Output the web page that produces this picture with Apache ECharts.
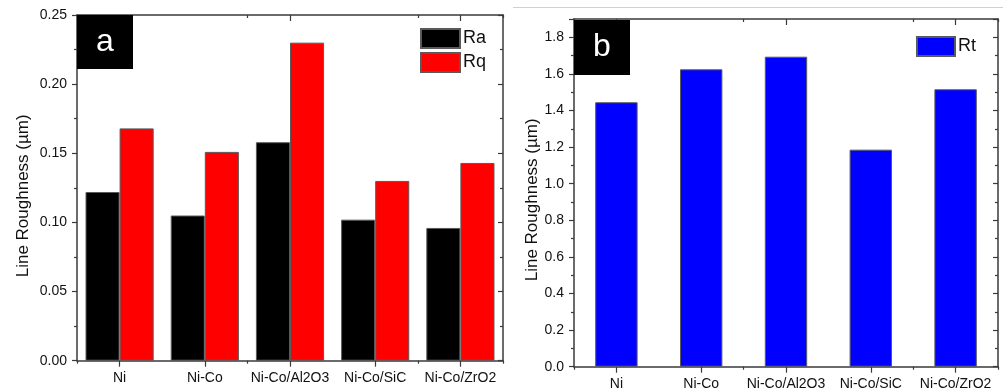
<!DOCTYPE html>
<html>
<head>
<meta charset="utf-8">
<title>Line Roughness</title>
<script src="https://cdn.jsdelivr.net/npm/echarts@6/dist/echarts.min.js"></script>
<style>
  html, body { margin: 0; padding: 0; background: #fff; }
  #chart { width: 1003px; height: 392px; }
</style>
</head>
<body>
<div id="chart"></div>
<script>
// Coatings measured
const categories = ['Ni', 'Ni-Co', 'Ni-Co/Al2O3', 'Ni-Co/SiC', 'Ni-Co/ZrO2'];
// Panel a: arithmetic mean (Ra) and root-mean-square (Rq) line roughness, µm
const raValues = [0.122, 0.105, 0.158, 0.102, 0.096];
const rqValues = [0.168, 0.151, 0.230, 0.130, 0.143];
// Panel b: total height of profile (Rt), µm
const rtValues = [1.445, 1.625, 1.694, 1.186, 1.516];
// Axis ranges / tick steps
const leftAxis = { min: 0, max: 0.25, interval: 0.05 };
const rightAxis = { min: 0, max: 1.9, interval: 0.2 };

const FONT = 'Liberation Sans, Arial, sans-serif';
const AXIS_COLOR = '#3a3a3a';
const TEXT_COLOR = '#111';

const chart = echarts.init(document.getElementById('chart'), null, { renderer: 'canvas' });

// Category axes: labelled bottom axis with ticks under each label,
// plus tick-only copies for category boundaries and the mirrored top frame.
function xAxesFor(gridIndex) {
  const base = {
    type: 'category', data: categories, gridIndex: gridIndex,
    axisLine: { show: true, lineStyle: { color: AXIS_COLOR, width: 1.5 } },
    splitLine: { show: false }
  };
  return [
    Object.assign({}, base, {
      position: 'bottom',
      axisTick: { show: true, alignWithLabel: true, length: 6, lineStyle: { color: AXIS_COLOR, width: 1.2 } },
      axisLabel: { show: true, margin: 10, fontSize: 14, fontFamily: FONT, color: TEXT_COLOR, interval: 0 }
    }),
    Object.assign({}, base, {
      position: 'bottom',
      axisLine: { show: false },
      axisTick: { show: true, alignWithLabel: false, length: 3, lineStyle: { color: AXIS_COLOR, width: 1.2 } },
      axisLabel: { show: false }
    }),
    Object.assign({}, base, {
      position: 'top',
      axisTick: { show: true, inside: true, alignWithLabel: true, length: 6, lineStyle: { color: AXIS_COLOR, width: 1.2 } },
      axisLabel: { show: false }
    }),
    Object.assign({}, base, {
      position: 'top',
      axisLine: { show: false },
      axisTick: { show: true, inside: true, alignWithLabel: false, length: 3, lineStyle: { color: AXIS_COLOR, width: 1.2 } },
      axisLabel: { show: false }
    })
  ];
}

function yAxesFor(gridIndex, range, digits, nameGap, nameShift) {
  const base = {
    type: 'value', gridIndex: gridIndex,
    min: range.min, max: range.max, interval: range.interval,
    splitLine: { show: false },
    axisLine: { show: true, lineStyle: { color: AXIS_COLOR, width: 1.5 } },
    minorTick: { show: true, splitNumber: 2, length: 3, lineStyle: { color: AXIS_COLOR, width: 1.2 } }
  };
  return [
    Object.assign({}, base, {
      position: 'left',
      name: 'Line Roughness (µm)',
      nameLocation: 'middle',
      nameGap: nameGap,
      nameTextStyle: { fontSize: 17, fontFamily: FONT, color: TEXT_COLOR, padding: [0, nameShift, 0, 0] },
      axisTick: { show: true, length: 5, lineStyle: { color: AXIS_COLOR, width: 1.2 } },
      axisLabel: {
        show: true, margin: 10, fontSize: 14, fontFamily: FONT, color: TEXT_COLOR,
        showMaxLabel: Math.abs(range.max / range.interval - Math.round(range.max / range.interval)) < 1e-9,
        formatter: function (v) { return v.toFixed(digits); }
      }
    }),
    Object.assign({}, base, {
      position: 'right',
      axisTick: { show: true, inside: true, length: 5, lineStyle: { color: AXIS_COLOR, width: 1.2 } },
      axisLabel: { show: false }
    })
  ];
}

const barBorder = { borderColor: '#5a5a5a', borderWidth: 1 };

const option = {
  backgroundColor: '#fff',
  animation: false,
  textStyle: { fontFamily: FONT },
  grid: [
    { left: 77, top: 15, width: 426, height: 345.7 },
    { left: 574, top: 19, width: 424, height: 347.7 }
  ],
  xAxis: xAxesFor(0).concat(xAxesFor(1)),
  yAxis: yAxesFor(0, leftAxis, 2, 45, 16).concat(yAxesFor(1, rightAxis, 1, 30, 14)),
  legend: [
    {
      data: ['Ra', 'Rq'], orient: 'vertical', left: 420, top: 28,
      itemWidth: 39, itemHeight: 19, itemGap: 3, padding: 0,
      icon: 'rect',
      textStyle: { fontSize: 18, fontFamily: FONT, color: TEXT_COLOR, padding: [0, 0, 0, -2] }
    },
    {
      data: ['Rt'], orient: 'vertical', left: 916, top: 36,
      itemWidth: 38, itemHeight: 19, padding: 0,
      icon: 'rect',
      textStyle: { fontSize: 18, fontFamily: FONT, color: TEXT_COLOR, padding: [0, 0, 0, -2] }
    }
  ],
  series: [
    {
      name: 'Ra', type: 'bar', xAxisIndex: 0, yAxisIndex: 0, data: raValues,
      barGap: '0%', barCategoryGap: '20%',
      itemStyle: Object.assign({ color: '#000000' }, barBorder)
    },
    {
      name: 'Rq', type: 'bar', xAxisIndex: 0, yAxisIndex: 0, data: rqValues,
      barGap: '0%', barCategoryGap: '20%',
      itemStyle: Object.assign({ color: '#ff0000' }, barBorder)
    },
    {
      name: 'Rt', type: 'bar', xAxisIndex: 4, yAxisIndex: 2, data: rtValues,
      barWidth: '50%',
      itemStyle: Object.assign({ color: '#0000ff' }, barBorder)
    }
  ],
  graphic: [
    // panel tags
    { type: 'rect', left: 77, top: 15, shape: { width: 56, height: 54 }, style: { fill: '#000' }, z: 10 },
    { type: 'text', x: 105, y: 42, style: { text: 'a', fill: '#fff', font: '32px ' + FONT, align: 'center', verticalAlign: 'middle' }, z: 11 },
    { type: 'rect', left: 574, top: 20, shape: { width: 56, height: 55 }, style: { fill: '#000' }, z: 10 },
    { type: 'text', x: 602, y: 47, style: { text: 'b', fill: '#fff', font: '32px ' + FONT, align: 'center', verticalAlign: 'middle' }, z: 11 },
    // thin frame edge above panel b
    { type: 'line', shape: { x1: 513, y1: 7.5, x2: 1003, y2: 7.5 }, style: { stroke: '#d0d0d0', lineWidth: 1 }, z: 1 }
  ]
};

chart.setOption(option);
</script>
</body>
</html>
